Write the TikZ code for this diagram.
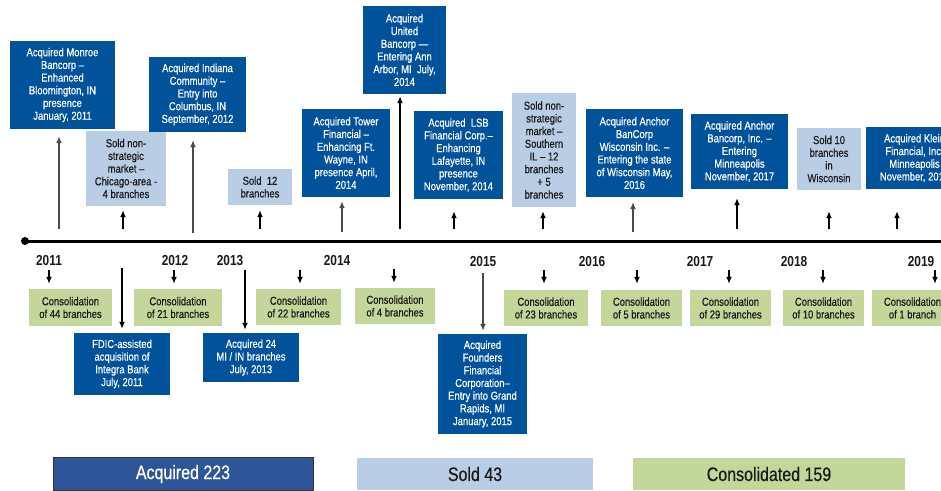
\documentclass[tikz,border=0pt]{standalone}
\usepackage{fontspec}
\setmainfont{Liberation Sans}[FakeStretch=0.82]
\newfontfamily\boxfnt{Liberation Sans}[FakeStretch=0.82,FakeBold=0.5]
\usetikzlibrary{arrows.meta}
\definecolor{dblue}{HTML}{00529B}
\definecolor{lblue}{HTML}{B9CDE5}
\definecolor{lgreen}{HTML}{C4D79B}
\definecolor{legblue}{HTML}{2E5597}
\definecolor{txt}{HTML}{1A1A1A}
\definecolor{agray}{HTML}{4A4A4A}
\newcommand{\bxfont}{\boxfnt\fontsize{11.5}{12.7}\selectfont}
\tikzset{
  boxbase/.style={inner sep=0pt, align=center, font=\bxfont, anchor=center},
  acqbox/.style={boxbase, fill=dblue, text=white},
  soldbox/.style={boxbase, fill=lblue, text=txt},
  consbox/.style={boxbase, fill=lgreen, text=txt},
  yearlbl/.style={font=\fontsize{14.5}{16}\selectfont\bfseries, text=txt, inner sep=0pt},
  arr/.style={-{Latex[length=7pt,width=6pt]}, line width=1.4pt, draw=black},
  garr/.style={arr, draw=agray, line width=1.6pt},
  legbox/.style={inner sep=0pt, font=\boxfnt\fontsize{19.5}{22}\selectfont, anchor=center},
}
\begin{document}
\begin{tikzpicture}[x=1pt,y=-1pt]
\useasboundingbox (0,0) rectangle (941,490);
\clip (0,0) rectangle (941,490);

% timeline
\node[circle, fill=black, inner sep=0pt, minimum size=8pt] (start) at (25,241) {};
\coordinate (tend) at (945,241);
\draw[line width=3pt] (start.center) -- (tend);

% years
\node[yearlbl] (y2011) at (49,261) {2011};
\node[yearlbl] (y2012) at (175,261) {2012};
\node[yearlbl] (y2013) at (230,261) {2013};
\node[yearlbl] (y2014) at (337,261) {2014};
\node[yearlbl] (y2015) at (483,262) {2015};
\node[yearlbl] (y2016) at (592,262) {2016};
\node[yearlbl] (y2017) at (700,262) {2017};
\node[yearlbl] (y2018) at (794,262) {2018};
\node[yearlbl] (y2019) at (921,262) {2019};

% upper boxes
\node[acqbox, minimum width=105pt, minimum height=88pt] (monroe) at (62.5,85)
  {Acquired Monroe\\Bancorp –\\Enhanced\\Bloomington, IN\\presence\\January, 2011};
\node[soldbox, minimum width=80pt, minimum height=75pt] (soldchi) at (126,168.5)
  {Sold non-\\strategic\\market –\\Chicago-area -\\4 branches};
\node[acqbox, minimum width=97pt, minimum height=75pt] (indiana) at (197.5,94.5)
  {Acquired Indiana\\Community –\\Entry into\\Columbus, IN\\September, 2012};
\node[soldbox, minimum width=64pt, minimum height=36pt] (sold12) at (260,187)
  {Sold\ \ 12\\branches};
\node[acqbox, minimum width=88pt, minimum height=88pt] (tower) at (346,153)
  {Acquired Tower\\Financial –\\Enhancing Ft.\\Wayne, IN\\presence April,\\2014};
\node[acqbox, minimum width=83pt, minimum height=88pt] (united) at (404.5,50)
  {Acquired\\United\\Bancorp —\\Entering Ann\\Arbor, MI\ \ July,\\2014};
\node[acqbox, minimum width=89pt, minimum height=88pt] (lsb) at (458.5,155)
  {Acquired\ \ LSB\\Financial Corp.–\\Enhancing\\Lafayette, IN\\presence\\November, 2014};
\node[soldbox, minimum width=64pt, minimum height=114pt] (soldsouth) at (544,150)
  {Sold non-\\strategic\\market –\\Southern\\IL – 12\\branches\\+ 5\\branches};
\node[acqbox, minimum width=97pt, minimum height=88pt] (anchorwi) at (634.5,153)
  {Acquired Anchor\\BanCorp\\Wisconsin Inc. –\\Entering the state\\of Wisconsin May,\\2016};
\node[acqbox, minimum width=97pt, minimum height=75pt] (anchormn) at (739.5,151.5)
  {Acquired Anchor\\Bancorp, Inc. –\\Entering\\Minneapolis\\November, 2017};
\node[soldbox, minimum width=64pt, minimum height=62pt] (sold10) at (829,159)
  {Sold 10\\branches\\in\\Wisconsin};
\node[acqbox, minimum width=97pt, minimum height=62pt] (klein) at (914.5,158)
  {Acquired Klein\\Financial, Inc.\\Minneapolis\\November, 2018};

% lower boxes
\node[consbox, minimum width=83pt, minimum height=37pt] (c44) at (70.5,307.5)
  {Consolidation\\of 44 branches};
\node[acqbox, minimum width=96pt, minimum height=62pt] (fdic) at (122,364)
  {FDIC-assisted\\acquisition of\\Integra Bank\\July, 2011};
\node[consbox, minimum width=88pt, minimum height=37pt] (c21) at (178,307.5)
  {Consolidation\\of 21 branches};
\node[acqbox, minimum width=96pt, minimum height=49pt] (acq24) at (251,357.5)
  {Acquired 24\\MI / IN branches\\July, 2013};
\node[consbox, minimum width=85pt, minimum height=36pt] (c22) at (298.5,307)
  {Consolidation\\of 22 branches};
\node[consbox, minimum width=80pt, minimum height=36pt] (c4) at (395,306)
  {Consolidation\\of 4 branches};
\node[acqbox, minimum width=89pt, minimum height=100pt] (founders) at (482.5,384)
  {Acquired\\Founders\\Financial\\Corporation–\\Entry into Grand\\Rapids, MI\\January, 2015};
\node[consbox, minimum width=84pt, minimum height=36pt] (c23) at (546,308)
  {Consolidation\\of 23 branches};
\node[consbox, minimum width=81pt, minimum height=36pt] (c5) at (641.5,308)
  {Consolidation\\of 5 branches};
\node[consbox, minimum width=81pt, minimum height=36pt] (c29) at (730.5,308)
  {Consolidation\\of 29 branches};
\node[consbox, minimum width=81pt, minimum height=36pt] (c10) at (823.5,308)
  {Consolidation\\of 10 branches};
\node[consbox, minimum width=81pt, minimum height=36pt] (c1) at (912.5,308)
  {Consolidation\\of 1 branch};

% up arrows
\coordinate (u1) at (59,229);   \draw[garr] (u1) -- ([yshift=-7pt]u1 |- monroe.south);
\coordinate (u2) at (123,229);  \draw[arr] (u2) -- ([yshift=-4pt]u2 |- soldchi.south);
\coordinate (u3) at (193,233);  \draw[garr] (u3) -- ([yshift=-8pt]u3 |- indiana.south);
\coordinate (u4) at (260,229);  \draw[arr] (u4) -- ([yshift=-5pt]u4 |- sold12.south);
\coordinate (u5) at (342,232);  \draw[garr] (u5) -- ([yshift=-4pt]u5 |- tower.south);
\coordinate (u6) at (400,229);  \draw[arr] (u6) -- ([yshift=-2pt]u6 |- united.south);
\coordinate (u7) at (454,229);  \draw[arr] (u7) -- ([yshift=-12pt]u7 |- lsb.south);
\coordinate (u8) at (543,229);  \draw[arr] (u8) -- ([yshift=-4pt]u8 |- soldsouth.south);
\coordinate (u9) at (633,232);  \draw[garr] (u9) -- ([yshift=-5pt]u9 |- anchorwi.south);
\coordinate (u10) at (737,229); \draw[arr] (u10) -- ([yshift=-9pt]u10 |- anchormn.south);
\coordinate (u11) at (829,229); \draw[arr] (u11) -- ([yshift=-21pt]u11 |- sold10.south);
\coordinate (u12) at (897,229); \draw[arr] (u12) -- ([yshift=-22pt]u12 |- klein.south);

% down arrows
\coordinate (d1) at (49,270);   \draw[arr] (d1) -- ([yshift=5pt]d1 |- c44.north);
\coordinate (d2) at (122,268);  \draw[arr] (d2) -- ([yshift=4pt]d2 |- fdic.north);
\coordinate (d3) at (174,270);  \draw[arr] (d3) -- ([yshift=5pt]d3 |- c21.north);
\coordinate (d4) at (245,270);  \draw[arr] (d4) -- ([yshift=3pt]d4 |- acq24.north);
\coordinate (d5) at (300,270);  \draw[arr] (d5) -- ([yshift=5pt]d5 |- c22.north);
\coordinate (d6) at (394,269);  \draw[arr] (d6) -- ([yshift=5pt]d6 |- c4.north);
\coordinate (d7) at (483,273);  \draw[garr] (d7) -- ([yshift=3pt]d7 |- founders.north);
\coordinate (d8) at (544,270);  \draw[arr] (d8) -- ([yshift=6pt]d8 |- c23.north);
\coordinate (d9) at (637,270);  \draw[arr] (d9) -- ([yshift=6pt]d9 |- c5.north);
\coordinate (d10) at (729,270); \draw[arr] (d10) -- ([yshift=6pt]d10 |- c29.north);
\coordinate (d11) at (823,270); \draw[arr] (d11) -- ([yshift=6pt]d11 |- c10.north);
\coordinate (d12) at (935,270); \draw[arr] (d12) -- ([yshift=6pt]d12 |- c1.north);

% legend
\node[legbox, fill=legblue, draw=black!80, line width=0.8pt, text=white,
      minimum width=260pt, minimum height=33pt] (legacq) at (183,474) {Acquired 223};
\node[legbox, fill=lblue, text=txt, minimum width=236pt, minimum height=32pt] (legsold) at (475,474) {Sold 43};
\node[legbox, fill=lgreen, text=txt, minimum width=272pt, minimum height=32pt] (legcons) at (769,474) {Consolidated 159};
\end{tikzpicture}
\end{document}
